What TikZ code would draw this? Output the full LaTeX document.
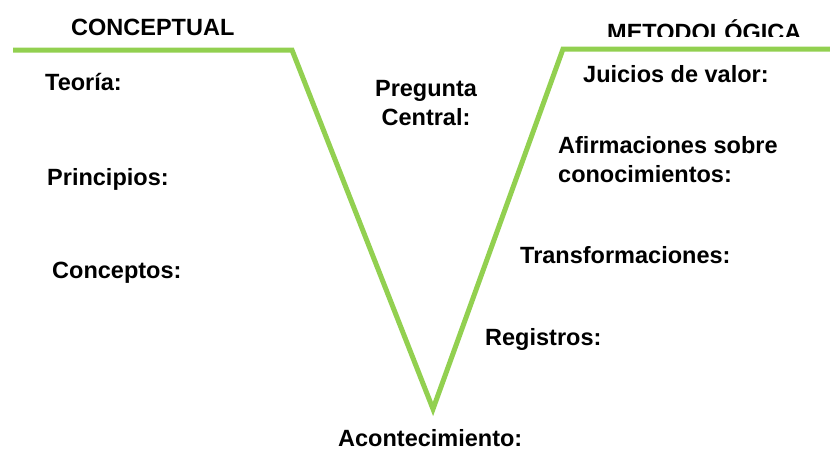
\documentclass[tikz,border=0pt]{standalone}
\usepackage{fontspec}
\setmainfont{Liberation Sans}
\definecolor{vgreen}{RGB}{146,208,80}
\begin{document}
\begin{tikzpicture}[x=1pt,y=-1pt,
  lab/.style={inner sep=0pt,anchor=base west,font=\fontsize{23.5}{29}\selectfont\bfseries},
  labc/.style={lab,anchor=base,align=center},
  vline/.style={draw=vgreen,line width=5pt,line join=miter}]
\useasboundingbox (0,0) rectangle (830,451);
\coordinate (p1) at (13,50);
\coordinate (p2) at (292,50);
\coordinate (p3) at (433,409);
\coordinate (p4) at (563,49);
\coordinate (p5) at (832,49);
\draw[vline] (p1) -- (p2) -- (p3) -- (p4) -- (p5);
\node[lab] (conc) at (71,35) {CONCEPTUAL};
\begin{scope}
\clip (540,0) rectangle (830,36.5);
\node[lab] (met) at (607,40) {METODOLÓGICA};
\end{scope}
\node[lab] (teo) at (45,90) {Teoría:};
\node[lab] (pri) at (47,185) {Principios:};
\node[lab] (con) at (52,278) {Conceptos:};
\node[labc] (pre) at (426,125) {Pregunta\\Central:};
\node[lab] (jui) at (583,82) {Juicios de valor:};
\node[lab,align=left] (afi) at (558,182) {Afirmaciones sobre\\conocimientos:};
\node[lab] (tra) at (520,263) {Transformaciones:};
\node[lab] (reg) at (485,345) {Registros:};
\node[lab] (aco) at (338,446) {Acontecimiento:};
\end{tikzpicture}
\end{document}
